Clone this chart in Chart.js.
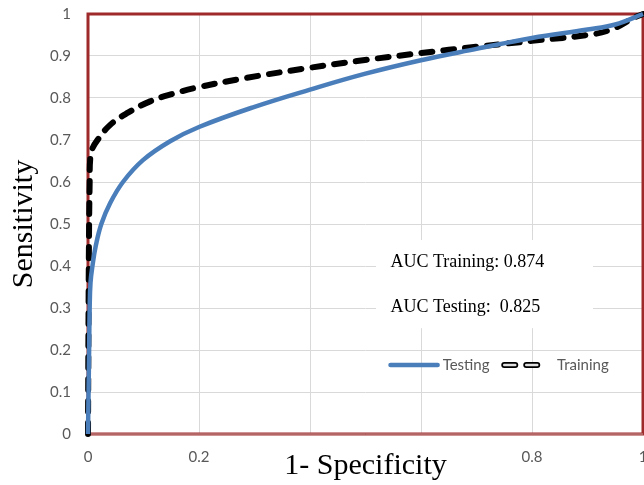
<!DOCTYPE html>
<html lang="en">
<head>
    <meta charset="UTF-8">
    <title>ROC Curve</title>
    <script src="https://cdn.jsdelivr.net/npm/chart.js"></script>
    <style>
        body { margin: 0; background: #fff; }
    </style>
</head>
<body>
    <canvas id="rocChart" width="644" height="485"></canvas>
    <script>
        // ROC points (1 - specificity, sensitivity)
        const testingX = [0, 0.001, 0.002, 0.003, 0.0045, 0.008, 0.014, 0.024, 0.04, 0.063, 0.099, 0.148, 0.2, 0.3, 0.4, 0.5, 0.6, 0.7, 0.8, 0.9, 0.95, 1];
        const testingY = [0, 0.1, 0.2, 0.3, 0.36, 0.4, 0.448, 0.5, 0.55, 0.6, 0.652, 0.697, 0.731, 0.779, 0.82, 0.858, 0.89, 0.917, 0.943, 0.963, 0.975, 1];

        const trainingX = [0, 0.001, 0.002, 0.003, 0.004, 0.008, 0.016, 0.04, 0.072, 0.112, 0.153, 0.2, 0.286, 0.4, 0.485, 0.6, 0.7, 0.8, 0.91, 0.95, 0.982, 1];
        const trainingY = [0, 0.3, 0.5, 0.6, 0.655, 0.68, 0.698, 0.736, 0.765, 0.792, 0.81, 0.826, 0.848, 0.872, 0.888, 0.907, 0.922, 0.936, 0.952, 0.967, 0.99, 1];

        const xTickLabels = ['0', '0.2', '', '', '0.8', '1'];
        const yTickLabels = ['0', '0.1', '0.2', '0.3', '0.4', '0.5', '0.6', '0.7', '0.8', '0.9', '1'];
        const aucNotes = ['AUC Training: 0.874', 'AUC Testing:  0.825'];
        const seriesNames = ['Testing', 'Training'];

        const toPoints = (xs, ys) => xs.map((x, i) => ({ x: x, y: ys[i] }));

        // white box, border, notes and legend drawn on top of the library's scales
        const decorations = {
            id: 'decorations',
            beforeDatasetsDraw(chart) {
                const { ctx, chartArea: a, scales: { x, y } } = chart;
                ctx.save();
                // white box behind the AUC notes
                ctx.fillStyle = '#fff';
                const bx = x.getPixelForValue(0.519), by = y.getPixelForValue(0.462);
                ctx.fillRect(bx, by, x.getPixelForValue(0.91) - bx, y.getPixelForValue(0.252) - by);
                // plot border
                ctx.strokeStyle = '#9e2a2b';
                ctx.lineWidth = 3;
                ctx.strokeRect(a.left, a.top, a.right - a.left, a.bottom - a.top);
                ctx.strokeStyle = '#c9a0a0';
                ctx.lineWidth = 1;
                ctx.beginPath();
                ctx.moveTo(a.left, a.bottom);
                ctx.lineTo(a.right, a.bottom);
                ctx.stroke();
                ctx.restore();
            },
            afterDraw(chart) {
                const { ctx, scales: { x, y } } = chart;
                ctx.save();
                ctx.fillStyle = '#000';
                ctx.font = '18px "Liberation Serif"';
                ctx.textBaseline = 'alphabetic';
                ctx.fillText(aucNotes[0], x.getPixelForValue(0.545), y.getPixelForValue(0.398));
                ctx.fillText(aucNotes[1], x.getPixelForValue(0.545), y.getPixelForValue(0.291));

                // legend
                const ly = y.getPixelForValue(0.164);
                ctx.lineCap = 'round';
                ctx.strokeStyle = '#4a7ebb';
                ctx.lineWidth = 4.5;
                ctx.beginPath();
                ctx.moveTo(x.getPixelForValue(0.545), ly);
                ctx.lineTo(x.getPixelForValue(0.63), ly);
                ctx.stroke();

                const dashSample = (lw, color) => {
                    ctx.strokeStyle = color;
                    ctx.lineWidth = lw;
                    ctx.setLineDash([11, 11]);
                    ctx.beginPath();
                    ctx.moveTo(x.getPixelForValue(0.75), ly);
                    ctx.lineTo(x.getPixelForValue(0.818), ly);
                    ctx.stroke();
                };
                dashSample(6, '#000');
                dashSample(2.5, '#e0e0e0');
                ctx.setLineDash([]);

                ctx.fillStyle = '#595959';
                ctx.font = '15px Lato';
                ctx.textBaseline = 'middle';
                ctx.fillText(seriesNames[0], x.getPixelForValue(0.639), ly);
                ctx.fillText(seriesNames[1], x.getPixelForValue(0.845), ly);
                ctx.restore();
            }
        };

        const ctx = document.getElementById('rocChart').getContext('2d');
        new Chart(ctx, {
            type: 'scatter',
            data: {
                datasets: [
                    {
                        label: seriesNames[0],
                        data: toPoints(testingX, testingY),
                        showLine: true,
                        borderColor: '#4a7ebb',
                        borderWidth: 4.5,
                        pointRadius: 0,
                        tension: 0.4,
                        clip: false
                    },
                    {
                        label: seriesNames[1],
                        data: toPoints(trainingX, trainingY),
                        showLine: true,
                        borderColor: '#000',
                        borderWidth: 6,
                        borderDash: [11, 11],
                        borderCapStyle: 'round',
                        pointRadius: 0,
                        tension: 0.4,
                        clip: false
                    },
                    {
                        // light centre stripe of the training dashes
                        label: '',
                        data: toPoints(trainingX, trainingY),
                        showLine: true,
                        borderColor: '#e0e0e0',
                        borderWidth: 2.5,
                        borderDash: [11, 11],
                        borderCapStyle: 'round',
                        pointRadius: 0,
                        tension: 0.4,
                        clip: false
                    }
                ]
            },
            options: {
                responsive: false,
                animation: false,
                layout: { padding: { top: 14, right: 1, left: 0, bottom: 0 } },
                plugins: {
                    legend: { display: false },
                    tooltip: { enabled: false }
                },
                scales: {
                    x: {
                        type: 'linear',
                        min: 0,
                        max: 1,
                        ticks: {
                            stepSize: 0.2,
                            padding: 14,
                            color: '#595959',
                            font: { family: 'Lato', size: 15 },
                            maxRotation: 0,
                            callback: (v, i) => xTickLabels[i]
                        },
                        grid: { color: '#d9d9d9', lineWidth: 1, drawTicks: false },
                        border: { display: false },
                        title: {
                            display: true,
                            text: '1- Specificity',
                            color: '#000',
                            font: { family: 'Liberation Serif', size: 30 },
                            padding: { top: 0, bottom: 1 }
                        },
                        afterFit(scale) {
                            scale.height = 51;
                            scale.paddingLeft = 0;
                            scale.paddingRight = 0;
                        }
                    },
                    y: {
                        type: 'linear',
                        min: 0,
                        max: 1,
                        ticks: {
                            stepSize: 0.1,
                            padding: 17,
                            color: '#595959',
                            font: { family: 'Lato', size: 15 },
                            callback: (v, i) => yTickLabels[i]
                        },
                        grid: { color: '#d9d9d9', lineWidth: 1, drawTicks: false },
                        border: { display: false },
                        title: {
                            display: true,
                            text: 'Sensitivity',
                            color: '#000',
                            font: { family: 'Liberation Serif', size: 30 },
                            padding: { top: 6, bottom: 0 }
                        },
                        afterFit(scale) {
                            scale.width = 88;
                            scale.paddingTop = 0;
                            scale.paddingBottom = 0;
                        }
                    }
                }
            },
            plugins: [decorations]
        });
    </script>
</body>
</html>
